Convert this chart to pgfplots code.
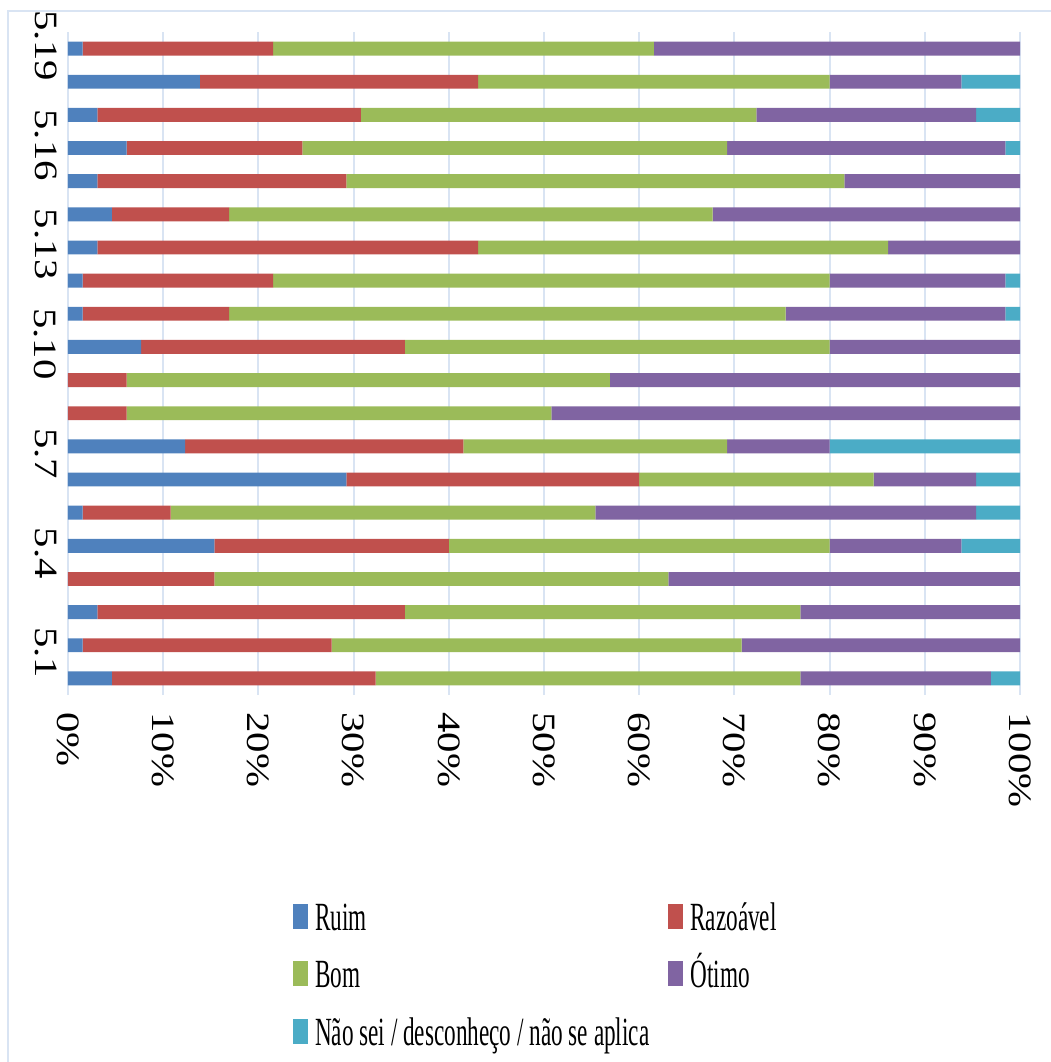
\documentclass[border=0pt]{standalone}
\usepackage{fontspec}
\setmainfont{Liberation Serif}
\newfontfamily\tickfont[FakeStretch=1.25]{Liberation Serif}
\newfontfamily\legfont[FakeStretch=0.58]{Liberation Serif}
\usepackage{pgfplots}
\usepackage{pgfplotstable}
\pgfplotsset{compat=1.18}
\definecolor{cRuim}{HTML}{4F81BD}
\definecolor{cRaz}{HTML}{C0504D}
\definecolor{cBom}{HTML}{9BBB59}
\definecolor{cOtimo}{HTML}{8064A2}
\definecolor{cNS}{HTML}{4BACC6}
\definecolor{gridc}{HTML}{D9E4F3}
\pgfplotstableread{
y Ruim Raz Bom Otimo NS
1 4.62 27.69 44.62 20.00 3.08
2 1.54 26.15 43.08 29.23 0
3 3.08 32.31 41.54 23.08 0
4 0 15.38 47.69 36.92 0
5 15.38 24.62 40.00 13.85 6.15
6 1.54 9.23 44.62 40.00 4.62
7 29.23 30.77 24.62 10.77 4.62
8 12.31 29.23 27.69 10.77 20.00
9 0 6.15 44.62 49.23 0
10 0 6.15 50.77 43.08 0
11 7.69 27.69 44.62 20.00 0
12 1.54 15.38 58.46 23.08 1.54
13 1.54 20.00 58.46 18.46 1.54
14 3.08 40.00 43.08 13.85 0
15 4.62 12.31 50.77 32.31 0
16 3.08 26.15 52.31 18.46 0
17 6.15 18.46 44.62 29.23 1.54
18 3.08 27.69 41.54 23.08 4.62
19 13.85 29.23 36.92 13.85 6.15
20 1.54 20.00 40.00 38.46 0
}\data
\begin{document}
\begin{tikzpicture}
\path[use as bounding box] (-34pt,-183.5pt) rectangle (491.5pt,347.5pt);
\draw[color=gridc, line width=1pt] (-30pt,-200pt) -- (-30pt,342pt) -- (520pt,342pt);
\begin{axis}[
  at={(0,0)}, anchor=south west, scale only axis,
  width=476pt, height=331.5pt,
  xbar stacked, bar width=0.42,
  xmin=0, xmax=100, ymin=0.5, ymax=20.5,
  xtick={0,10,...,100},
  xticklabels={0\%,10\%,20\%,30\%,40\%,50\%,60\%,70\%,80\%,90\%,100\%},
  ytick={1,4,...,19},
  yticklabels={5.1,5.4,5.7,5.10,5.13,5.16,5.19},
  xmajorgrids, major grid style={color=gridc, line width=1pt},
  axis line style={draw=none}, major tick style={draw=none},
  xticklabel style={font=\tickfont\fontsize{16.3}{18}\selectfont, inner sep=0pt, yshift=-8.5pt, rotate=-90, anchor=west},
  yticklabel style={font=\tickfont\fontsize{16.3}{18}\selectfont, inner sep=0pt, xshift=-5.5pt, rotate=-90, anchor=north east},
  legend columns=2,
  legend cell align=left,
  legend style={at={(0.236,-0.3077)}, anchor=north west, draw=none, inner sep=0pt,
    font=\legfont\fontsize{20}{24}\selectfont,
    /tikz/every even column/.append style={column sep=8pt},
    row sep=7.75pt,
    nodes={inner sep=1.5pt, text height=14pt, text depth=4pt}},
  legend image code/.code={\fill[#1] (0pt,-4.25pt) rectangle (7.5pt,8.25pt);\path (9.5pt,0pt);},
]
\addplot[fill=cRuim, draw=none] table[x=Ruim, y=y]{\data};
\addplot[fill=cRaz, draw=none] table[x=Raz, y=y]{\data};
\addplot[fill=cBom, draw=none] table[x=Bom, y=y]{\data};
\addplot[fill=cOtimo, draw=none] table[x=Otimo, y=y]{\data};
\addplot[fill=cNS, draw=none] table[x=NS, y=y]{\data};
\legend{Ruim, Razoável, Bom, Ótimo, Não sei / desconheço / não se aplica}
\end{axis}
\end{tikzpicture}
\end{document}
